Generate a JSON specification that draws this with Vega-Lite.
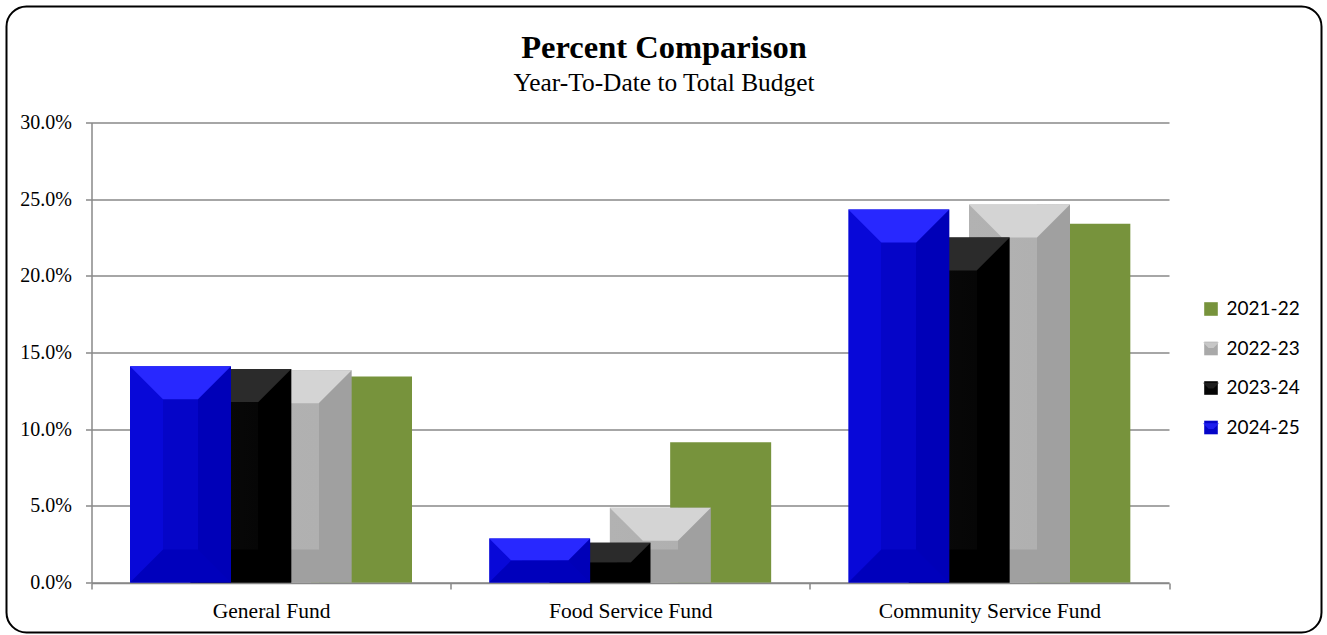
{
"$schema":"https://vega.github.io/schema/vega-lite/v6.json",
"autosize":{"type":"none"},
"padding":{"left":6.5,"top":6.5,"right":5,"bottom":2},
"width":1315,"height":626,
"background":"white",
"view":{"stroke":"#000000","strokeWidth":2,"cornerRadius":20,"fill":"white"},
"title":{"text":"Percent Comparison","subtitle":"Year-To-Date to Total Budget","font":"Liberation Serif","fontSize":32.5,"fontWeight":"bold","color":"#000000","subtitleFont":"Liberation Serif","subtitleFontSize":25.4,"subtitleColor":"#000000","subtitlePadding":7,"anchor":"middle","frame":"group","orient":"top","baseline":"top","offset":-90},
"data":{"values":[
{"fund":"General Fund","year":"2024-25","value":0.141},
{"fund":"General Fund","year":"2023-24","value":0.1393},
{"fund":"General Fund","year":"2022-23","value":0.1385},
{"fund":"General Fund","year":"2021-22","value":0.1343},
{"fund":"Food Service Fund","year":"2024-25","value":0.0287},
{"fund":"Food Service Fund","year":"2023-24","value":0.0259},
{"fund":"Food Service Fund","year":"2022-23","value":0.0487},
{"fund":"Food Service Fund","year":"2021-22","value":0.0915},
{"fund":"Community Service Fund","year":"2024-25","value":0.2433},
{"fund":"Community Service Fund","year":"2023-24","value":0.225},
{"fund":"Community Service Fund","year":"2022-23","value":0.2465},
{"fund":"Community Service Fund","year":"2021-22","value":0.2339}
]},
"encoding":{
"x":{"field":"fund","type":"nominal","sort":null,"title":null,
 "scale":{"domain":["General Fund","Food Service Fund","Community Service Fund"],"range":[85,1162.5],"paddingInner":0,"paddingOuter":0},
 "axis":{"orient":"bottom","offset":-49.5,"labelAngle":0,"labelFont":"Liberation Serif","labelFontSize":21.5,"labelLimit":400,"labelColor":"#000000","labelPadding":11,"tickBand":"extent","tickSize":6,"tickColor":"#888888","tickWidth":1.5,"domainColor":"#888888","domainWidth":1.5,"grid":false}},
"xOffset":{"field":"year","type":"nominal","scale":{"type":"point","padding":0,"domain":["2024-25","2023-24","2022-23","2021-22"],"range":[89,270]}},
"y":{"field":"value","type":"quantitative","title":null,
 "scale":{"domain":[0,0.3],"range":[576,116],"nice":false},
 "axis":{"orient":"left","offset":-85,"values":[0,0.05,0.1,0.15,0.2,0.25,0.3],"format":".1%","labelFont":"Liberation Serif","labelFontSize":20,"labelColor":"#000000","labelPadding":14,"tickSize":6,"tickColor":"#888888","tickWidth":1.5,"domainColor":"#888888","domainWidth":1.5,"grid":true,"gridColor":"#888888","gridWidth":1.5}}
},
"layer":[
{"transform":[{"filter":"datum.year==='2021-22'"}],
 "mark":{"type":"bar","size":101,"opacity":1},
 "encoding":{"color":{"field":"year","type":"nominal","title":null,
  "scale":{"domain":["2021-22","2022-23","2023-24","2024-25"],"range":["#77933c","#a9a9a9","#050505","#0505c8"]},
  "legend":{"orient":"none","legendX":1195,"legendY":293,"symbolType":"square","symbolSize":185,"labelFont":"Lato","labelFontSize":19,"labelColor":"#000000","rowPadding":19.5,"labelOffset":6}}}},
{"transform":[{"filter":"false"}],
 "mark":{"type":"point","filled":false},
 "encoding":{"stroke":{"field":"year","type":"nominal","title":null,
  "scale":{"domain":["2022-23","2023-24","2024-25"],"range":["#d4d4d4","#2b2b2b","#2828ff"]},
  "legend":{"orient":"none","legendX":1195,"legendY":333,"symbolType":"M-0.85,-0.85L0.85,-0.85L0.3,-0.3L-0.3,-0.3ZM-0.5,-0.6L0.5,-0.6","symbolSize":185,"symbolStrokeWidth":2,"symbolFillColor":"transparent","labelExpr":"''","labelFont":"Lato","labelFontSize":19,"rowPadding":19.5,"labelOffset":6}}}},
{"transform":[{"filter":"datum.year==='2022-23'"}],
 "mark":{"type":"bar","size":101,"fill":{"gradient":"linear","x1":0,"y1":0,"x2":1,"y2":0,"stops":[{"offset":0,"color":"#b2b2b2"},{"offset":0.673,"color":"#b0b0b0"},{"offset":0.673,"color":"#a0a0a0"},{"offset":1,"color":"#a0a0a0"}]}}},
{"transform":[{"filter":"datum.year==='2022-23'"}],
 "mark":{"type":"point","filled":true,"opacity":1,"size":4,"color":"#d4d4d4","strokeWidth":0,"shape":"M-50.5,0L50.5,0L17.5,33L-17.5,33Z"}},
{"transform":[{"filter":"datum.year==='2022-23'"}],
 "mark":{"type":"point","filled":true,"opacity":1,"size":4,"color":"#a0a0a0","strokeWidth":0,"shape":"M-50.5,0L50.5,0L17.5,-33L-17.5,-33Z"},
 "encoding":{"y":{"datum":0}}},
{"transform":[{"filter":"datum.year==='2023-24'"}],
 "mark":{"type":"bar","size":101,"fill":{"gradient":"linear","x1":0,"y1":0,"x2":1,"y2":0,"stops":[{"offset":0,"color":"#0a0a0a"},{"offset":0.673,"color":"#060606"},{"offset":0.673,"color":"#000000"},{"offset":1,"color":"#000000"}]}}},
{"transform":[{"filter":"datum.year==='2023-24'"}],
 "mark":{"type":"point","filled":true,"opacity":1,"size":4,"color":"#2b2b2b","strokeWidth":0},
 "encoding":{"shape":{"condition":{"test":"datum.fund==='Food Service Fund'","value":"M-50.5,0L50.5,0L30.7,19.8L-30.7,19.8Z"},"value":"M-50.5,0L50.5,0L17.5,33L-17.5,33Z"}}},
{"transform":[{"filter":"datum.year==='2023-24'"}],
 "mark":{"type":"point","filled":true,"opacity":1,"size":4,"color":"#000000","strokeWidth":0},
 "encoding":{"y":{"datum":0},"shape":{"condition":{"test":"datum.fund==='Food Service Fund'","value":"M-50.5,0L50.5,0L30.7,-19.8L-30.7,-19.8Z"},"value":"M-50.5,0L50.5,0L17.5,-33L-17.5,-33Z"}}},
{"transform":[{"filter":"datum.year==='2024-25'"}],
 "mark":{"type":"bar","size":101,"fill":{"gradient":"linear","x1":0,"y1":0,"x2":1,"y2":0,"stops":[{"offset":0,"color":"#0808d8"},{"offset":0.327,"color":"#0808d8"},{"offset":0.327,"color":"#0505c8"},{"offset":0.673,"color":"#0505c8"},{"offset":0.673,"color":"#0000b8"},{"offset":1,"color":"#0000b8"}]}}},
{"transform":[{"filter":"datum.year==='2024-25'"}],
 "mark":{"type":"point","filled":true,"opacity":1,"size":4,"color":"#2828ff","strokeWidth":0},
 "encoding":{"shape":{"condition":{"test":"datum.fund==='Food Service Fund'","value":"M-50.5,0L50.5,0L28.5,22L-28.5,22Z"},"value":"M-50.5,0L50.5,0L17.5,33L-17.5,33Z"}}},
{"transform":[{"filter":"datum.year==='2024-25'"}],
 "mark":{"type":"point","filled":true,"opacity":1,"size":4,"color":"#0000bc","strokeWidth":0},
 "encoding":{"y":{"datum":0},"shape":{"condition":{"test":"datum.fund==='Food Service Fund'","value":"M-50.5,0L50.5,0L28.5,-22L-28.5,-22Z"},"value":"M-50.5,0L50.5,0L17.5,-33L-17.5,-33Z"}}}
]
}
